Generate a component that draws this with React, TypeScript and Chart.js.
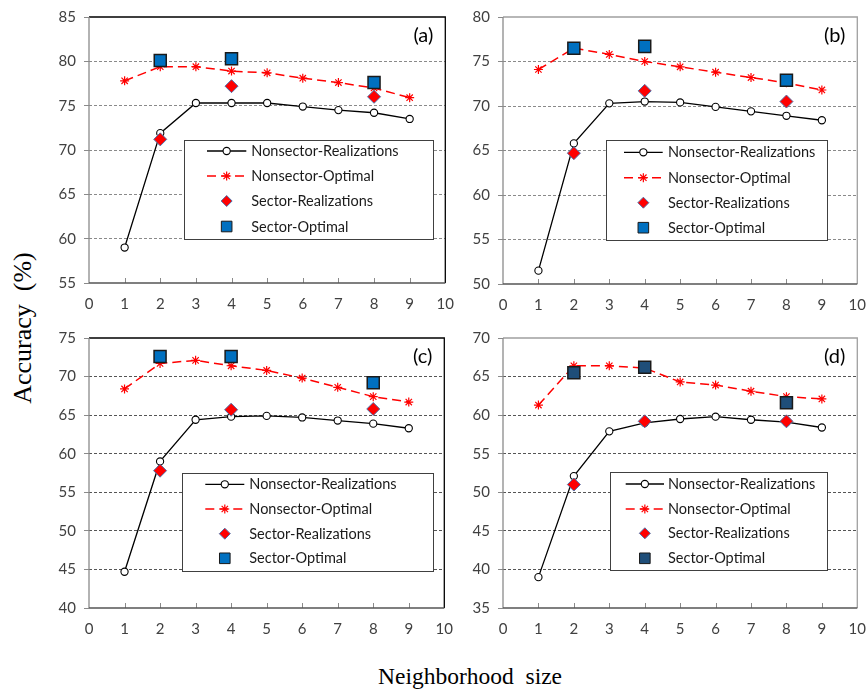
import React, { useEffect, useRef } from 'react';
import { Chart, registerables } from 'chart.js';
import { drawPoint } from 'chart.js/helpers';
Chart.register(...registerables);

// ---------- data ----------
const neighborhoodSizes = [1, 2, 3, 4, 5, 6, 7, 8, 9];
const sectorSizes = [2, 4, 8];
const seriesNames = ['Nonsector-Realizations', 'Nonsector-Optimal', 'Sector-Realizations', 'Sector-Optimal'];
const panelLabels = ['(a)', '(b)', '(c)', '(d)'];

const aNonsectorRealizations = [59.0, 71.9, 75.3, 75.3, 75.3, 74.9, 74.5, 74.2, 73.5];
const aNonsectorOptimal = [77.8, 79.4, 79.4, 78.9, 78.7, 78.1, 77.6, 77.0, 75.9];
const aSectorRealizations = [71.2, 77.2, 76.0];
const aSectorOptimal = [80.1, 80.3, 77.6];

const bNonsectorRealizations = [51.5, 65.8, 70.3, 70.5, 70.4, 69.9, 69.4, 68.9, 68.4];
const bNonsectorOptimal = [74.1, 76.5, 75.8, 75.0, 74.4, 73.8, 73.2, 72.6, 71.8];
const bSectorRealizations = [64.7, 71.7, 70.5];
const bSectorOptimal = [76.5, 76.7, 72.9];

const cNonsectorRealizations = [44.7, 59.0, 64.4, 64.8, 64.9, 64.7, 64.3, 63.9, 63.3];
const cNonsectorOptimal = [68.4, 71.7, 72.1, 71.4, 70.8, 69.8, 68.6, 67.4, 66.7];
const cSectorRealizations = [57.8, 65.7, 65.8];
const cSectorOptimal = [72.6, 72.6, 69.2];

const dNonsectorRealizations = [39.0, 52.1, 57.9, 59.0, 59.5, 59.8, 59.4, 59.1, 58.4];
const dNonsectorOptimal = [61.3, 66.4, 66.4, 66.1, 64.3, 63.9, 63.1, 62.4, 62.1];
const dSectorRealizations = [51.0, 59.2, 59.2];
const dSectorOptimal = [65.5, 66.2, 61.6];

const xMin = 0;
const xMax = 10;
const yRanges = [
  [55, 85],
  [50, 80],
  [40, 75],
  [35, 70],
];

// ---------- layout / style ----------
const Y_AXIS_W = 50;
const PAD_TOP = 14;
const PAD_RIGHT = 20;
const X_AXIS_H = 32;
const TICK_FONT = 'Lato';

type Box = { x0: number; y0: number; x1: number; y1: number; lx0: number; lx1: number; tx: number; rows: number[] };

const panels = [
  {
    label: panelLabels[0],
    area: { left: 88.7, top: 14, right: 445.7, bottom: 283 },
    range: yRanges[0],
    nr: aNonsectorRealizations, no: aNonsectorOptimal, sr: aSectorRealizations, so: aSectorOptimal,
    frame: '#000000', soColor: '#0070C0', gridColor: '#8a8a8a',
    legend: { x0: 184, y0: 140, x1: 433, y1: 239, lx0: 206.7, lx1: 246, tx: 251, rows: [151, 176, 201, 226.5] } as Box,
  },
  {
    label: panelLabels[1],
    area: { left: 503, top: 14, right: 857.7, bottom: 283.5 },
    range: yRanges[1],
    nr: bNonsectorRealizations, no: bNonsectorOptimal, sr: bSectorRealizations, so: bSectorOptimal,
    frame: '#a0a0a0', soColor: '#0070C0', gridColor: '#8a8a8a',
    legend: { x0: 605.7, y0: 140, x1: 827, y1: 240, lx0: 624, lx1: 662.7, tx: 668, rows: [152.3, 177.7, 202.7, 227.7] } as Box,
  },
  {
    label: panelLabels[2],
    area: { left: 88.7, top: 335, right: 444.5, bottom: 607.5 },
    range: yRanges[2],
    nr: cNonsectorRealizations, no: cNonsectorOptimal, sr: cSectorRealizations, so: cSectorOptimal,
    frame: '#000000', soColor: '#0070C0', gridColor: '#555555',
    legend: { x0: 181.7, y0: 472.7, x1: 433, y1: 570.7, lx0: 205, lx1: 244, tx: 249, rows: [484.3, 509, 533.7, 558.3] } as Box,
  },
  {
    label: panelLabels[3],
    area: { left: 503, top: 335, right: 857.7, bottom: 608 },
    range: yRanges[3],
    nr: dNonsectorRealizations, no: dNonsectorOptimal, sr: dSectorRealizations, so: dSectorOptimal,
    frame: '#a0a0a0', soColor: '#1F4E79', gridColor: '#555555',
    legend: { x0: 610, y0: 472.3, x1: 827, y1: 570.7, lx0: 625.7, lx1: 664, tx: 668, rows: [484, 509, 533.3, 558.3] } as Box,
  },
];

const NR_STYLE = { borderColor: '#000000', borderWidth: 1.3, pointStyle: 'circle', pointRadius: 3.6, pointBackgroundColor: '#ffffff', pointBorderColor: '#000000', pointBorderWidth: 1.1 };
const NO_STYLE = { borderColor: '#FF0000', borderWidth: 1.5, borderDash: [9, 5], pointStyle: 'star', pointRadius: 4.5, pointBorderColor: '#FF0000', pointBackgroundColor: '#FF0000', pointBorderWidth: 1.2 };
const SR_STYLE = { pointStyle: 'rectRot', pointRadius: 6.5, pointBackgroundColor: '#FF0000', pointBorderColor: '#4F6FA8', pointBorderWidth: 1 };
const SO_BORDER = '#1a1a1a';

function Panel({ p }: { p: (typeof panels)[number] }) {
  const ref = useRef<HTMLCanvasElement | null>(null);
  const cLeft = p.area.left - Y_AXIS_W;
  const cTop = p.area.top - PAD_TOP;
  const width = Math.round(p.area.right - p.area.left + Y_AXIS_W + PAD_RIGHT);
  const height = Math.round(p.area.bottom - p.area.top + PAD_TOP + X_AXIS_H);

  useEffect(() => {
    const [yMin, yMax] = p.range;
    const decor = {
      id: 'decor',
      beforeDatasetsDraw(chart: any) {
        const { ctx, chartArea: a, scales } = chart;
        ctx.save();
        ctx.strokeStyle = '#8a8a8a';
        ctx.lineWidth = 1;
        for (let v = xMin + 1; v < xMax; v++) {
          const x = Math.round(scales.x.getPixelForValue(v)) + 0.5;
          ctx.beginPath();
          ctx.moveTo(x, a.bottom);
          ctx.lineTo(x, a.bottom - 5);
          ctx.stroke();
        }
        ctx.lineWidth = 1.3;
        ctx.strokeStyle = p.frame;
        ctx.beginPath();
        ctx.moveTo(a.left, a.top);
        ctx.lineTo(a.right, a.top);
        ctx.lineTo(a.right, a.bottom);
        ctx.stroke();
        ctx.strokeStyle = '#8a8a8a';
        ctx.beginPath();
        ctx.moveTo(a.left, a.top);
        ctx.lineTo(a.left, a.bottom);
        ctx.stroke();
        ctx.strokeStyle = '#555555';
        ctx.beginPath();
        ctx.moveTo(a.left, a.bottom);
        ctx.lineTo(a.right, a.bottom);
        ctx.stroke();
        ctx.restore();
      },
      afterDraw(chart: any) {
        const { ctx, chartArea: a } = chart;
        const ox = cLeft;
        const oy = cTop;
        const L = p.legend;
        ctx.save();
        ctx.fillStyle = '#000';
        ctx.font = `20px ${TICK_FONT}`;
        ctx.textAlign = 'right';
        ctx.textBaseline = 'middle';
        ctx.fillText(p.label, a.right - 12, a.top + 19);
        ctx.fillStyle = '#ffffff';
        ctx.fillRect(L.x0 - ox, L.y0 - oy, L.x1 - L.x0, L.y1 - L.y0);
        ctx.strokeStyle = '#404040';
        ctx.lineWidth = 1;
        ctx.strokeRect(Math.round(L.x0 - ox) + 0.5, Math.round(L.y0 - oy) + 0.5, Math.round(L.x1 - L.x0), Math.round(L.y1 - L.y0));
        const mx = (L.lx0 + L.lx1) / 2 - ox;
        const styles = [NR_STYLE, NO_STYLE, SR_STYLE, null];
        seriesNames.forEach((name, i) => {
          const y = L.rows[i] - oy;
          const st: any = styles[i];
          if (i < 2) {
            ctx.save();
            ctx.strokeStyle = st.borderColor;
            ctx.lineWidth = st.borderWidth;
            ctx.setLineDash(st.borderDash || []);
            ctx.beginPath();
            ctx.moveTo(L.lx0 - ox, y);
            ctx.lineTo(L.lx1 - ox, y);
            ctx.stroke();
            ctx.restore();
          }
          ctx.save();
          if (st) {
            ctx.fillStyle = st.pointBackgroundColor;
            ctx.strokeStyle = st.pointBorderColor;
            ctx.lineWidth = st.pointBorderWidth;
            drawPoint(ctx, { pointStyle: st.pointStyle, radius: i === 2 ? 5.5 : st.pointRadius, rotation: 0, borderWidth: st.pointBorderWidth } as any, mx, y);
          } else {
            ctx.fillStyle = p.soColor;
            ctx.strokeStyle = SO_BORDER;
            ctx.lineWidth = 1;
            drawPoint(ctx, { pointStyle: 'rect', radius: 7.5, rotation: 0, borderWidth: 1 } as any, mx, y);
          }
          ctx.restore();
          ctx.fillStyle = '#1a1a1a';
          ctx.font = `14.5px ${TICK_FONT}`;
          ctx.textAlign = 'left';
          ctx.textBaseline = 'middle';
          ctx.fillText(name, L.tx - ox, y + 0.5);
        });
        ctx.restore();
      },
    };

    const pts = (xs: number[], ys: number[]) => xs.map((x, i) => ({ x, y: ys[i] }));

    const chart = new Chart(ref.current as HTMLCanvasElement, {
      type: 'scatter',
      data: {
        datasets: [
          {
            label: seriesNames[3],
            data: pts(sectorSizes, p.so),
            showLine: false,
            pointStyle: 'rect',
            pointRadius: 8.5,
            pointBackgroundColor: p.soColor,
            pointBorderColor: SO_BORDER,
            pointBorderWidth: 1.5,
            order: 0,
          } as any,
          { label: seriesNames[2], data: pts(sectorSizes, p.sr), showLine: false, ...SR_STYLE, order: 1 } as any,
          { label: seriesNames[1], data: pts(neighborhoodSizes, p.no), showLine: true, ...NO_STYLE, order: 2 } as any,
          { label: seriesNames[0], data: pts(neighborhoodSizes, p.nr), showLine: true, ...NR_STYLE, order: 3 } as any,
        ],
      },
      options: {
        animation: false,
        responsive: false,
        layout: { padding: { top: PAD_TOP, right: PAD_RIGHT, left: 0, bottom: 0 } },
        plugins: { legend: { display: false }, tooltip: { enabled: false } },
        scales: {
          x: {
            type: 'linear',
            min: xMin,
            max: xMax,
            afterFit: (s: any) => { s.height = X_AXIS_H; },
            grid: { display: false, drawTicks: false },
            border: { display: false },
            ticks: { stepSize: 1, padding: 12, color: '#404040', font: { family: TICK_FONT, size: 15 }, maxRotation: 0 },
          },
          y: {
            type: 'linear',
            min: yMin,
            max: yMax,
            afterFit: (s: any) => { s.width = Y_AXIS_W; },
            grid: {
              color: (c: any) => (c.tick && (c.tick.value === yMin || c.tick.value === yMax) ? 'rgba(0,0,0,0)' : p.gridColor),
              tickColor: '#8a8a8a',
              tickLength: 5,
              lineWidth: 1,
            },
            border: { display: false, dash: [3, 2] },
            ticks: { stepSize: 5, padding: 8, color: '#404040', font: { family: TICK_FONT, size: 15 } },
          },
        },
      },
      plugins: [decor],
    } as any);
    return () => chart.destroy();
  }, []);

  return (
    <canvas
      ref={ref}
      width={width}
      height={height}
      style={{ position: 'absolute', left: cLeft, top: cTop, width, height }}
    />
  );
}

export default function App() {
  return (
    <div style={{ position: 'fixed', left: 0, top: 0, width: 868, height: 690, background: '#ffffff', overflow: 'hidden' }}>
      {panels.map((p) => (
        <Panel key={p.label} p={p} />
      ))}
      <div
        style={{
          position: 'absolute',
          left: 23,
          top: 328,
          transform: 'translate(-50%, -50%) rotate(-90deg)',
          font: '26px "Liberation Serif", serif',
          whiteSpace: 'pre',
          color: '#000',
          lineHeight: 1,
        }}
      >
        {'Accuracy  (%)'}
      </div>
      <div
        style={{
          position: 'absolute',
          left: 470,
          top: 676,
          transform: 'translate(-50%, -50%)',
          font: '23.5px "Liberation Serif", serif',
          whiteSpace: 'pre',
          color: '#000',
        }}
      >
        {'Neighborhood  size'}
      </div>
    </div>
  );
}
